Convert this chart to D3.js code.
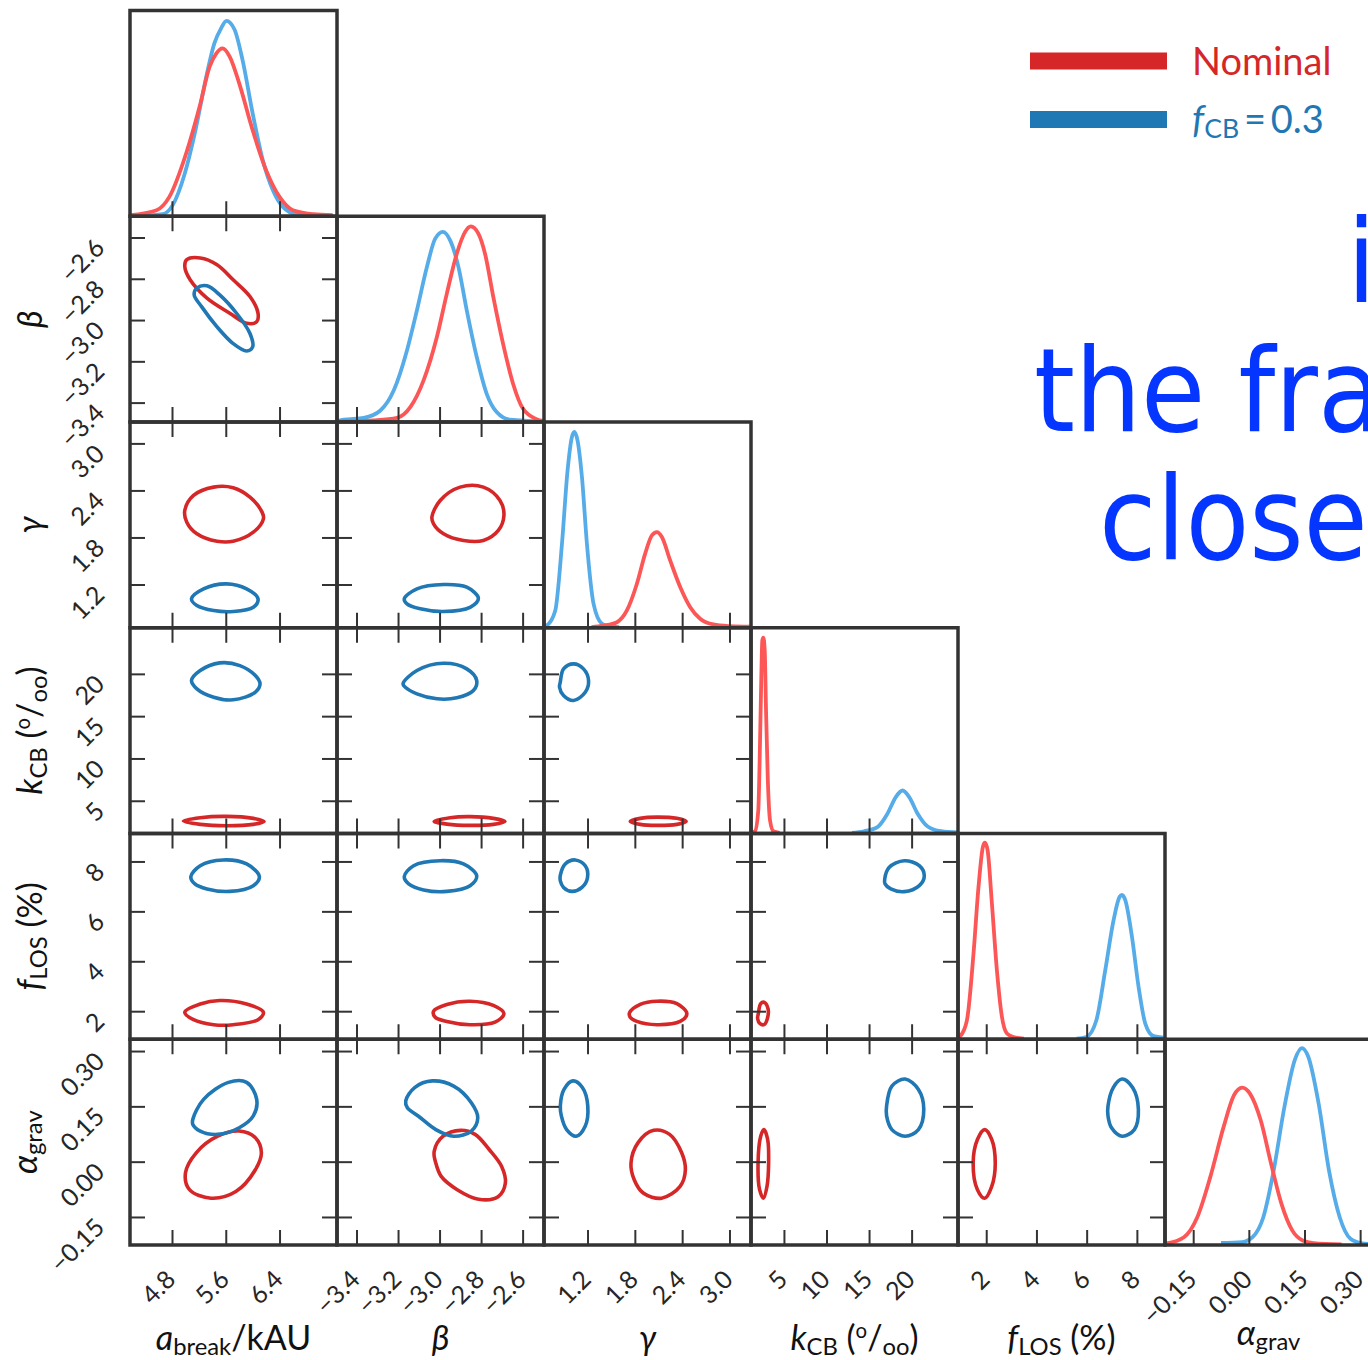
<!DOCTYPE html>
<html>
<head>
<meta charset="utf-8">
<script src="https://cdn.jsdelivr.net/npm/d3@7"></script>
<style>
  body { margin: 0; background: #fff; }
  svg { display: block; font-family: Lato, "Liberation Sans", "DejaVu Sans", sans-serif; }
</style>
</head>
<body>
<script>
'use strict'

// ---- data ----
var paramDomains = [[4.175, 7.255], [-3.494, -2.497], [0.648, 3.273], [1.13, 25.45], [0.876, 9.12], [-0.226, 0.332]]
var paramTicks = [[4.8, 5.6, 6.4], [-3.4, -3.2, -3.0, -2.8, -2.6], [1.2, 1.8, 2.4, 3.0], [5, 10, 15, 20], [2, 4, 6, 8], [-0.15, 0.0, 0.15, 0.30]]
var tickFormats = ['.1f', '.1f', '.1f', 'd', 'd', '.2f']
var paramLabels = [
  [['a', 'i'], ['break', 'sub'], ['/kAU', 'n']],
  [['β', 'i']],
  [['γ', 'i']],
  [['k', 'i'], ['CB', 'sub'], [' (', 'n'], ['o', 'sup'], ['/', 'n'], ['oo', 'sub'], [')', 'n']],
  [['f', 'i'], ['LOS', 'sub'], [' (%)', 'n']],
  [['α', 'i'], ['grav', 'sub']]
]
var seriesNames = ['Nominal', 'fCB=0.3']

// 1D marginals: [value, relative density]; [nominal, fCB=0.3]
var margABreak = [
  [[4.17, 0.005], [4.57, 0.029], [4.76, 0.094], [5.01, 0.305], [5.21, 0.532], [5.36, 0.727], [5.46, 0.792], [5.55, 0.816], [5.66, 0.775], [5.80, 0.646], [6.00, 0.418], [6.20, 0.224], [6.40, 0.094], [6.60, 0.029], [6.90, 0.010], [7.19, 0.005]],
  [[4.30, 0.002], [4.66, 0.010], [4.81, 0.054], [4.99, 0.208], [5.16, 0.435], [5.31, 0.678], [5.43, 0.840], [5.53, 0.913], [5.61, 0.950], [5.73, 0.908], [5.85, 0.759], [6.00, 0.500], [6.15, 0.273], [6.30, 0.127], [6.45, 0.045], [6.65, 0.010], [7.20, 0.002]]
]
var margBeta = [
  [[-3.49, 0.002], [-3.32, 0.008], [-3.205, 0.020], [-3.141, 0.072], [-3.077, 0.202], [-3.013, 0.413], [-2.965, 0.624], [-2.917, 0.818], [-2.877, 0.924], [-2.850, 0.951], [-2.813, 0.916], [-2.781, 0.818], [-2.741, 0.607], [-2.694, 0.380], [-2.646, 0.186], [-2.598, 0.064], [-2.533, 0.014], [-2.50, 0.005]],
  [[-3.49, 0.004], [-3.461, 0.011], [-3.365, 0.020], [-3.285, 0.056], [-3.221, 0.153], [-3.157, 0.348], [-3.109, 0.543], [-3.061, 0.753], [-3.021, 0.891], [-2.984, 0.924], [-2.949, 0.883], [-2.909, 0.753], [-2.869, 0.543], [-2.821, 0.316], [-2.773, 0.137], [-2.725, 0.048], [-2.661, 0.011], [-2.50, 0.002]]
]
var margGamma = [
  [[1.25, 0.003], [1.404, 0.010], [1.573, 0.027], [1.699, 0.084], [1.826, 0.214], [1.931, 0.360], [2.016, 0.449], [2.080, 0.465], [2.143, 0.441], [2.248, 0.327], [2.375, 0.198], [2.502, 0.100], [2.628, 0.044], [2.797, 0.016], [3.0, 0.008], [3.27, 0.005]],
  [[0.65, 0.005], [0.685, 0.011], [0.791, 0.084], [0.876, 0.409], [0.947, 0.765], [1.002, 0.927], [1.031, 0.952], [1.073, 0.911], [1.129, 0.733], [1.192, 0.409], [1.276, 0.117], [1.383, 0.019], [1.446, 0.010], [1.6, 0.003]]
]
var margKcb = [
  [[1.2, 0.005], [1.596, 0.011], [1.986, 0.112], [2.187, 0.436], [2.340, 0.761], [2.459, 0.939], [2.577, 0.952], [2.742, 0.890], [2.896, 0.599], [3.097, 0.274], [3.369, 0.063], [3.759, 0.011], [4.5, 0.003]],
  [[13.0, 0.003], [14.40, 0.011], [15.98, 0.031], [17.16, 0.096], [18.14, 0.177], [18.94, 0.209], [19.72, 0.177], [20.71, 0.096], [21.89, 0.034], [23.46, 0.011], [25.44, 0.005]]
]
var margFlos = [
  [[0.88, 0.008], [0.964, 0.015], [1.231, 0.092], [1.494, 0.417], [1.693, 0.741], [1.869, 0.936], [1.948, 0.955], [2.053, 0.920], [2.226, 0.660], [2.425, 0.336], [2.625, 0.109], [2.824, 0.028], [3.090, 0.011], [3.5, 0.003]],
  [[5.6, 0.003], [5.988, 0.011], [6.386, 0.092], [6.741, 0.336], [7.072, 0.579], [7.311, 0.692], [7.406, 0.701], [7.538, 0.676], [7.804, 0.498], [8.068, 0.254], [8.335, 0.076], [8.665, 0.015], [9.064, 0.008]]
]
var margAgrav = [
  [[-0.222, 0.008], [-0.175, 0.038], [-0.139, 0.135], [-0.104, 0.330], [-0.068, 0.574], [-0.040, 0.728], [-0.018, 0.765], [0.003, 0.736], [0.032, 0.606], [0.060, 0.395], [0.088, 0.200], [0.117, 0.071], [0.145, 0.022], [0.174, 0.009], [0.25, 0.003]],
  [[-0.075, 0.010], [-0.018, 0.014], [0.010, 0.038], [0.039, 0.135], [0.067, 0.363], [0.096, 0.672], [0.124, 0.900], [0.143, 0.957], [0.160, 0.916], [0.188, 0.689], [0.216, 0.363], [0.245, 0.135], [0.274, 0.030], [0.302, 0.009], [0.33, 0.004]]
]

// 2D contours: [x value, y value]; [nominal, fCB=0.3]
var ctrBetaA = [
  [[5.02, -2.707], [5.22, -2.699], [5.47, -2.732], [5.71, -2.805], [5.96, -2.886], [6.08, -2.967], [6.06, -3.008], [5.91, -3.016], [5.66, -2.967], [5.32, -2.894], [5.07, -2.805], [4.99, -2.740]],
  [[5.17, -2.845], [5.32, -2.834], [5.51, -2.878], [5.76, -2.967], [5.96, -3.065], [6.00, -3.130], [5.91, -3.150], [5.71, -3.114], [5.47, -3.033], [5.24, -2.935], [5.13, -2.878]]
]
var ctrGammaA = [
  [[4.99, 2.144], [5.12, 2.336], [5.42, 2.442], [5.71, 2.434], [5.96, 2.314], [6.14, 2.123], [6.16, 2.038], [6.01, 1.867], [5.71, 1.752], [5.47, 1.752], [5.17, 1.847], [5.02, 1.995]],
  [[5.09, 1.017], [5.27, 1.144], [5.61, 1.208], [5.91, 1.144], [6.08, 1.017], [6.01, 0.909], [5.71, 0.855], [5.42, 0.867], [5.17, 0.931]]
]
var ctrKcbA = [
  [[4.97, 2.60], [5.22, 3.00], [5.61, 3.15], [6.01, 2.92], [6.17, 2.56], [6.01, 2.21], [5.61, 2.05], [5.22, 2.21]],
  [[5.09, 19.21], [5.22, 20.39], [5.51, 21.30], [5.81, 20.98], [6.04, 19.80], [6.11, 18.82], [6.04, 17.83], [5.71, 16.93], [5.42, 17.24], [5.17, 18.23]]
]
var ctrFlosA = [
  [[4.99, 1.96], [5.22, 2.29], [5.51, 2.43], [5.91, 2.29], [6.16, 1.96], [6.08, 1.66], [5.71, 1.46], [5.42, 1.46], [5.12, 1.66]],
  [[5.08, 7.39], [5.22, 7.83], [5.56, 8.06], [5.91, 7.90], [6.10, 7.39], [6.01, 7.03], [5.66, 6.80], [5.32, 6.90], [5.14, 7.10]]
]
var ctrAgravA = [
  [[5.00, -0.031], [5.16, 0.024], [5.48, 0.069], [5.80, 0.083], [6.04, 0.065], [6.13, 0.024], [6.04, -0.022], [5.75, -0.081], [5.38, -0.099], [5.06, -0.076]],
  [[5.11, 0.115], [5.27, 0.169], [5.64, 0.215], [5.91, 0.215], [6.06, 0.169], [6.01, 0.124], [5.80, 0.092], [5.48, 0.074], [5.22, 0.083], [5.11, 0.101]]
]
var ctrGammaBeta = [
  [[-3.037, 2.059], [-2.997, 2.272], [-2.901, 2.442], [-2.789, 2.442], [-2.709, 2.272], [-2.690, 2.080], [-2.717, 1.889], [-2.789, 1.761], [-2.885, 1.761], [-2.981, 1.847], [-3.029, 1.974]],
  [[-3.170, 1.017], [-3.109, 1.144], [-2.981, 1.199], [-2.869, 1.165], [-2.813, 1.024], [-2.853, 0.909], [-2.981, 0.855], [-3.093, 0.889], [-3.157, 0.953]]
]
var ctrKcbBeta = [
  [[-3.026, 2.56], [-2.949, 3.00], [-2.853, 3.12], [-2.741, 2.92], [-2.685, 2.56], [-2.741, 2.21], [-2.853, 2.09], [-2.965, 2.24]],
  [[-3.176, 18.82], [-3.109, 20.39], [-2.981, 21.25], [-2.869, 20.59], [-2.821, 19.21], [-2.837, 18.03], [-2.917, 17.17], [-3.013, 17.05], [-3.109, 17.64], [-3.165, 18.42]]
]
var ctrFlosBeta = [
  [[-3.029, 2.00], [-2.965, 2.27], [-2.853, 2.40], [-2.741, 2.23], [-2.690, 1.90], [-2.733, 1.56], [-2.853, 1.46], [-2.965, 1.59], [-3.021, 1.76]],
  [[-3.170, 7.39], [-3.125, 7.83], [-2.997, 8.03], [-2.885, 7.90], [-2.821, 7.43], [-2.853, 7.03], [-2.965, 6.80], [-3.077, 6.86], [-3.149, 7.10]]
]
var ctrAgravBeta = [
  [[-3.026, 0.028], [-2.983, 0.069], [-2.898, 0.085], [-2.829, 0.074], [-2.761, 0.033], [-2.701, -0.013], [-2.683, -0.058], [-2.718, -0.095], [-2.812, -0.102], [-2.915, -0.076], [-2.992, -0.040], [-3.018, -0.004]],
  [[-3.163, 0.165], [-3.120, 0.201], [-3.035, 0.219], [-2.932, 0.205], [-2.847, 0.160], [-2.816, 0.119], [-2.847, 0.083], [-2.932, 0.069], [-3.018, 0.087], [-3.103, 0.124], [-3.155, 0.146]]
]
var ctrKcbGamma = [
  [[1.741, 2.56], [1.868, 2.92], [2.080, 3.07], [2.333, 2.92], [2.451, 2.56], [2.333, 2.21], [2.080, 2.09], [1.868, 2.21]],
  [[0.854, 19.01], [0.896, 20.59], [1.023, 21.18], [1.149, 20.59], [1.213, 19.21], [1.171, 17.83], [1.023, 16.85], [0.896, 17.44], [0.845, 18.42]]
]
var ctrFlosGamma = [
  [[1.732, 1.93], [1.868, 2.27], [2.080, 2.40], [2.333, 2.30], [2.460, 1.90], [2.375, 1.59], [2.080, 1.46], [1.826, 1.59], [1.741, 1.76]],
  [[0.854, 7.43], [0.917, 7.90], [1.044, 8.06], [1.171, 7.83], [1.200, 7.36], [1.129, 6.96], [1.002, 6.80], [0.896, 6.96], [0.854, 7.23]]
]
var ctrAgravGamma = [
  [[1.751, -0.004], [1.839, 0.051], [2.039, 0.085], [2.241, 0.074], [2.394, 0.024], [2.441, -0.022], [2.374, -0.067], [2.139, -0.099], [1.906, -0.085], [1.792, -0.049]],
  [[0.855, 0.151], [0.902, 0.196], [1.015, 0.219], [1.135, 0.201], [1.203, 0.151], [1.170, 0.096], [1.056, 0.069], [0.935, 0.087], [0.868, 0.124]]
]
var ctrFlosKcb = [
  [[1.99, 1.90], [2.27, 2.30], [2.66, 2.36], [3.13, 2.10], [3.05, 1.70], [2.66, 1.46], [2.19, 1.50], [1.91, 1.70]],
  [[16.84, 7.30], [17.35, 7.76], [19.13, 8.03], [20.90, 7.83], [21.49, 7.43], [20.90, 7.03], [19.13, 6.79], [17.55, 6.90], [16.88, 7.10]]
]
var ctrAgravKcb = [
  [[1.96, -0.004], [2.27, 0.069], [2.65, 0.087], [3.09, 0.060], [3.20, -0.004], [3.01, -0.067], [2.58, -0.099], [2.14, -0.076]],
  [[17.06, 0.151], [17.68, 0.205], [19.24, 0.224], [20.80, 0.196], [21.43, 0.142], [20.80, 0.087], [19.24, 0.069], [17.68, 0.087], [17.06, 0.124]]
]
var ctrAgravFlos = [
  [[1.48, -0.004], [1.65, 0.060], [1.94, 0.087], [2.22, 0.060], [2.36, -0.004], [2.22, -0.067], [1.94, -0.099], [1.65, -0.076]],
  [[6.85, 0.151], [7.06, 0.201], [7.41, 0.224], [7.83, 0.201], [8.06, 0.142], [7.90, 0.087], [7.41, 0.069], [6.99, 0.092], [6.85, 0.124]]
]

var noteLines = ['is', 'the fraction', 'close to']

function draw () {
  // lookup tables built from the arrays
  var marginals = [margABreak, margBeta, margGamma, margKcb, margFlos, margAgrav]
  var contours = {
    '1,0': ctrBetaA, '2,0': ctrGammaA, '3,0': ctrKcbA, '4,0': ctrFlosA, '5,0': ctrAgravA,
    '2,1': ctrGammaBeta, '3,1': ctrKcbBeta, '4,1': ctrFlosBeta, '5,1': ctrAgravBeta,
    '3,2': ctrKcbGamma, '4,2': ctrFlosGamma, '5,2': ctrAgravGamma,
    '4,3': ctrFlosKcb, '5,3': ctrAgravKcb,
    '5,4': ctrAgravFlos
  }

  var W = 1368, H = 1360
  var gridLeft = 130, gridTop = 10.5, cw = 207, ch = 205.75, n = 6
  var tickLen = 15
  var frameColor = '#333'
  var ctrColors = ['#d62728', '#1f77b4']
  var margColors = ['#fd5656', '#55ace8']
  var legendColors = ['#d62728', '#1f77b4']
  // titles with no ascender-heavy parts sit a little higher (top aligned in the original)
  var titleShift = [0, 0, 0, 0, 0, -5]

  var svg = d3.select('body').append('svg').attr('width', W).attr('height', H)

  function xScale (j) {
    return d3.scaleLinear().domain(paramDomains[j]).range([gridLeft + j * cw, gridLeft + (j + 1) * cw])
  }
  function yScale (i) {
    return d3.scaleLinear().domain(paramDomains[i]).range([gridTop + (i + 1) * ch, gridTop + i * ch])
  }

  function tickAxis (axis, tx, ty) {
    var a = svg.append('g')
      .attr('transform', 'translate(' + tx + ',' + ty + ')')
      .attr('color', frameColor)
      .call(axis.tickSize(-tickLen).tickFormat(''))
    a.select('.domain').remove()
    a.selectAll('line').attr('stroke-width', 2)
  }

  function richText (sel, segs, size) {
    var shift = 0
    segs.forEach(function (s) {
      var target = 0, fs = size
      if (s[1] === 'sub') { target = size * 0.14; fs = size * 0.7 }
      if (s[1] === 'sup') { target = -size * 0.36; fs = size * 0.6 }
      var t = sel.append('tspan').text(s[0]).attr('font-size', fs).attr('dy', target - shift)
      if (s[1] === 'i') t.attr('font-style', 'italic')
      shift = target
    })
  }

  var defs = svg.append('defs')
  var curveLayer = svg.append('g')
  var frameLayer = svg.append('g')

  for (var i = 0; i < n; i++) {
    for (var j = 0; j <= i; j++) {
      var x = xScale(j)
      var px = gridLeft + j * cw, py = gridTop + i * ch
      var clipId = 'clip-' + i + '-' + j
      defs.append('clipPath').attr('id', clipId)
        .append('rect').attr('x', px).attr('y', py).attr('width', cw).attr('height', ch)
      var plot = curveLayer.append('g').attr('clip-path', 'url(#' + clipId + ')')

      if (i === j) {
        var yd = d3.scaleLinear().domain([0, 1]).range([py + ch, py])
        var margLine = d3.line()
          .x(function (d) { return x(d[0]) })
          .y(function (d) { return yd(d[1]) })
          .curve(d3.curveMonotoneX)
        ;[1, 0].forEach(function (s) {
          plot.append('path').datum(marginals[i][s])
            .attr('d', margLine)
            .attr('fill', 'none')
            .attr('stroke', margColors[s])
            .attr('stroke-width', 3.8)
            .attr('stroke-linejoin', 'round')
        })
        tickAxis(d3.axisBottom(x).tickValues(paramTicks[j]), 0, py + ch)
      } else {
        var y = yScale(i)
        var ctrLine = d3.line()
          .x(function (d) { return x(d[0]) })
          .y(function (d) { return y(d[1]) })
          .curve(d3.curveCatmullRomClosed.alpha(0.5))
        var pair = contours[i + ',' + j]
        ;[0, 1].forEach(function (s) {
          plot.append('path').datum(pair[s])
            .attr('d', ctrLine)
            .attr('fill', 'none')
            .attr('stroke', ctrColors[s])
            .attr('stroke-width', 3.6)
        })
        tickAxis(d3.axisBottom(x).tickValues(paramTicks[j]), 0, py + ch)
        tickAxis(d3.axisTop(x).tickValues(paramTicks[j]), 0, py)
        tickAxis(d3.axisLeft(y).tickValues(paramTicks[i]), px, 0)
        tickAxis(d3.axisRight(y).tickValues(paramTicks[i]), px + cw, 0)
      }

      frameLayer.append('rect')
        .attr('x', px).attr('y', py).attr('width', cw).attr('height', ch)
        .attr('fill', 'none').attr('stroke', frameColor).attr('stroke-width', 3.5)
    }
  }

  // tick labels: bottom row and left column
  var labelG = svg.append('g').attr('font-size', 25).attr('fill', '#262626')
  d3.range(n).forEach(function (c) {
    var xc = xScale(c), fx = d3.format(tickFormats[c])
    paramTicks[c].forEach(function (t) {
      labelG.append('text')
        .attr('text-anchor', 'end')
        .attr('transform', 'translate(' + (xc(t) + 5) + ',1281) rotate(-45)')
        .text(fx(t))
    })
  })
  d3.range(1, n).forEach(function (r) {
    var yr = yScale(r), fy = d3.format(tickFormats[r])
    paramTicks[r].forEach(function (t) {
      labelG.append('text')
        .attr('text-anchor', 'end')
        .attr('transform', 'translate(106,' + (yr(t) + 12) + ') rotate(-45)')
        .text(fy(t))
    })
  })

  // axis titles
  d3.range(n).forEach(function (k) {
    var tx = svg.append('text').attr('text-anchor', 'middle')
      .attr('x', gridLeft + (k + 0.5) * cw).attr('y', 1350 + titleShift[k]).attr('fill', '#111')
    richText(tx, paramLabels[k], 34)
    if (k > 0) {
      var ty = svg.append('text').attr('text-anchor', 'middle').attr('fill', '#111')
        .attr('transform', 'translate(' + (42 + titleShift[k]) + ',' + (gridTop + (k + 0.5) * ch) + ') rotate(-90)')
      richText(ty, paramLabels[k], 34)
    }
  })

  // legend
  var legend = svg.append('g')
  seriesNames.forEach(function (label, s) {
    var ly = 61 + s * 58.5
    legend.append('line')
      .attr('x1', 1030).attr('x2', 1167).attr('y1', ly).attr('y2', ly)
      .attr('stroke', legendColors[s]).attr('stroke-width', 17)
    var t = legend.append('text').attr('x', 1192).attr('y', ly + 13.5)
      .attr('fill', legendColors[s]).attr('font-size', 38)
    if (s === 0) t.text(label)
    else richText(t, [['f', 'i'], ['CB', 'sub'], ['\u2009=\u2009', 'n'], ['0.3', 'n']], 38)
  })

  // large annotation text (runs off the right edge)
  var noteX = [1347, 1034, 1099]
  var note = svg.append('g')
    .attr('font-family', '"DejaVu Sans Condensed", "DejaVu Sans", sans-serif')
    .attr('font-stretch', 'condensed')
    .attr('font-size', 116)
    .attr('fill', '#0536ff')
  noteLines.forEach(function (s, q) {
    note.append('text').attr('x', noteX[q]).attr('y', 302 + q * 128.5).text(s)
  })
}

draw()
</script>
</body>
</html>
